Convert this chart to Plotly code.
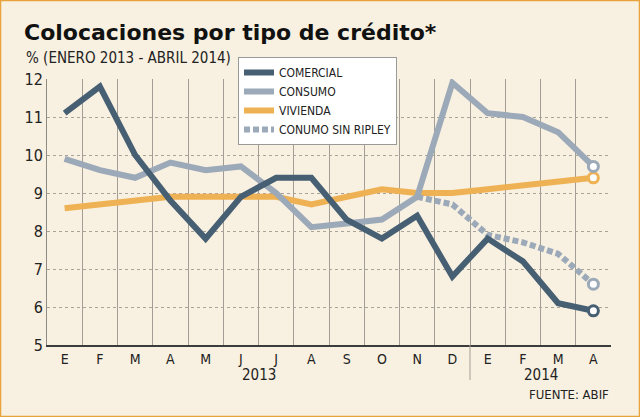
import plotly.graph_objects as go

months = ["E", "F", "M", "A", "M", "J", "J", "A", "S", "O", "N", "D", "E", "F", "M", "A"]
years = ["2013", "2014"]
comercial = [11.1, 11.8, 10.0, 8.8, 7.8, 8.9, 9.4, 9.4, 8.3, 7.8, 8.4, 6.8, 7.8, 7.2, 6.1, 5.9]
consumo = [9.9, 9.6, 9.4, 9.8, 9.6, 9.7, 9.0, 8.1, 8.2, 8.3, 8.9, 11.9, 11.1, 11.0, 10.6, 9.7]
vivienda = [8.6, 8.7, 8.8, 8.9, 8.9, 8.9, 8.9, 8.7, 8.9, 9.1, 9.0, 9.0, 9.1, 9.2, 9.3, 9.4]
sin_ripley = [None] * 10 + [8.9, 8.7, 7.9, 7.7, 7.4, 6.6]

x = list(range(len(months)))

C_COM = "#465f73"
C_CON = "#9ba9b8"
C_VIV = "#eeb153"
BG = "#f8f0e0"
FONT_C = "DejaVu Sans Condensed"

fig = go.Figure()

series = [
    ("VIVIENDA", vivienda, C_VIV, "solid", 3),
    ("CONSUMO", consumo, C_CON, "solid", 2),
    ("CONUMO SIN RIPLEY", sin_ripley, C_CON, "6px,3px", 4),
    ("COMERCIAL", comercial, C_COM, "solid", 1),
]
for name, vals, col, dash, rank in series:
    fig.add_trace(go.Scatter(
        x=x, y=vals, mode="lines", name=name, legendrank=rank,
        line=dict(color=col, width=6, dash=dash),
    ))
for name, vals, col, dash, rank in series:
    fig.add_trace(go.Scatter(
        x=[x[-1]], y=[vals[-1]], mode="markers", showlegend=False, hoverinfo="skip",
        marker=dict(size=10, color="white", line=dict(color=col, width=3)),
    ))

fig.update_layout(
    width=640, height=417,
    margin=dict(l=47, r=29, t=79, b=72),
    paper_bgcolor=BG, plot_bgcolor=BG,
    font=dict(family=FONT_C, color="#1a1a1a"),
    title=dict(
        text="<b>Colocaciones por tipo de crédito*</b>",
        font=dict(family="DejaVu Sans", size=22, color="#111"),
        xref="container", yref="container", x=24 / 640, xanchor="left",
        y=1 - 32 / 417, yanchor="middle",
    ),
    legend=dict(
        x=(238 - 47) / 564, y=(345 - 57) / 266, xanchor="left", yanchor="top",
        bgcolor="white", bordercolor="#9a9a9a", borderwidth=1,
        font=dict(family=FONT_C, size=12, color="#222"),
        itemwidth=30, tracegroupgap=0,
    ),
    showlegend=True,
    xaxis=dict(
        range=[-0.5, 15.5], tickmode="array", tickvals=x, ticktext=months,
        showgrid=False, zeroline=False, ticks="",
        tickfont=dict(family=FONT_C, size=14, color="#222"),
        showline=True, linecolor="#3c3c3c", linewidth=2,
        minor=dict(tick0=-0.5, dtick=1, showgrid=True, gridcolor="#a39e95", gridwidth=1, ticks=""),
    ),
    yaxis=dict(
        range=[5, 12], dtick=1, tick0=5,
        showgrid=True, gridcolor="#aaa397", griddash="3px,3px", gridwidth=1,
        zeroline=False, ticks="",
        tickfont=dict(family=FONT_C, size=16, color="#222"),
        showline=True, linecolor="#8e8a84", linewidth=1,
    ),
)

# subtitle
fig.add_annotation(
    text="% (ENERO 2013 - ABRIL 2014)", xref="paper", yref="paper",
    x=-23 / 564, y=(345 - 58) / 266, xanchor="left", yanchor="middle",
    showarrow=False, font=dict(family=FONT_C, size=15, color="#222"),
)
# year labels
for yr, xc in zip(years, [5.5, 13.5]):
    fig.add_annotation(
        text=yr, xref="x", yref="paper", x=xc, y=-(375 - 345) / 266,
        yanchor="middle", showarrow=False,
        font=dict(family=FONT_C, size=15, color="#222"),
    )
# source
fig.add_annotation(
    text="FUENTE: ABIF", xref="paper", yref="paper", x=1.0, y=-(394 - 345) / 266,
    xanchor="right", yanchor="middle", showarrow=False,
    font=dict(family=FONT_C, size=13, color="#222"),
)
# year separator
fig.add_shape(type="line", xref="x", yref="paper", x0=11.5, x1=11.5, y0=0, y1=-(380 - 345) / 266,
              line=dict(color="#a39e95", width=1))
# outer border
fig.add_shape(type="rect", xref="paper", yref="paper",
              x0=-46.5 / 564, x1=(640 - 47 - 0.5) / 564, y0=-(417 - 345 - 0.5) / 266, y1=(345 - 0.5) / 266,
              line=dict(color="#e8a33a", width=1.5), layer="below")

fig.write_html("out.html")
